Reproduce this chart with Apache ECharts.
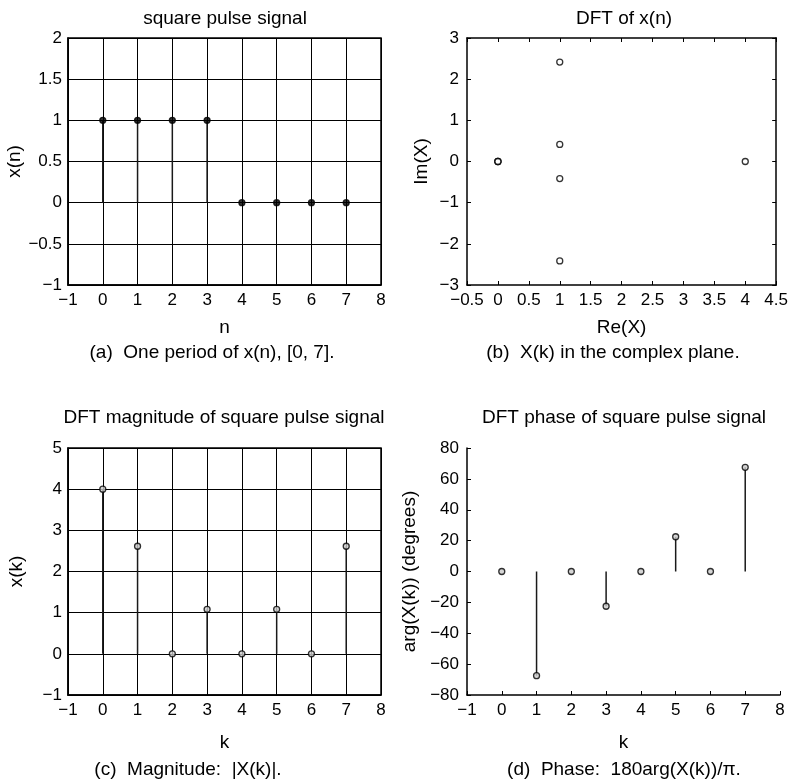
<!DOCTYPE html>
<html>
<head>
<meta charset="utf-8">
<script src="https://cdn.jsdelivr.net/npm/echarts@6/dist/echarts.min.js"></script>
<style>
  html, body { margin: 0; padding: 0; background: #fff; }
  #chart { width: 791px; height: 782px; }
</style>
</head>
<body>
<div id="chart"></div>
<script>
// One period of the square pulse and its 8-point DFT
const nIdx = [0, 1, 2, 3, 4, 5, 6, 7];
const xn = [1, 1, 1, 1, 0, 0, 0, 0];
const reX = [4, 1, 0, 1, 0, 1, 0, 1];
const imX = [0, -2.414, 0, -0.414, 0, 0.414, 0, 2.414];
const magX = [4, 2.613, 0, 1.082, 0, 1.082, 0, 2.613];
const phaseX = [0, -67.5, 0, -22.5, 0, 22.5, 0, 67.5];

const titles = [
  'square pulse signal',
  'DFT of x(n)',
  'DFT magnitude of square pulse signal',
  'DFT phase of square pulse signal'
];
const captions = [
  '(a)  One period of x(n), [0, 7].',
  '(b)  X(k) in the complex plane.',
  '(c)  Magnitude:  |X(k)|.',
  '(d)  Phase:  180arg(X(k))/\u03c0.'
];

const FONT = '"Liberation Sans", Arial, Helvetica, sans-serif';
const INK = '#000';

const pairs = (xs, ys) => xs.map((x, i) => [x, ys[i]]);
const minusFmt = v => String(v).replace('-', '\u2212');

const tickLabel = (margin) => ({
  color: INK, fontFamily: FONT, fontSize: 17, margin: margin,
  formatter: minusFmt, showMinLabel: true, showMaxLabel: true
});
const nameStyle = { color: INK, fontFamily: FONT, fontSize: 19 };

function valueAxis(o) {
  return Object.assign({
    type: 'value',
    nameLocation: 'middle',
    nameTextStyle: nameStyle,
    axisLine: { show: true, onZero: false, lineStyle: { color: INK, width: 1.5 } },
    axisTick: { show: true, inside: true, length: 4, lineStyle: { color: INK, width: 1 } },
    splitLine: { show: false },
    axisLabel: tickLabel(7)
  }, o);
}
const gridLines = { show: true, lineStyle: { color: INK, width: 1 } };
const hiddenLabels = { show: false };

function stemItem(params, api) {
  const p0 = api.coord([api.value(0), 0]);
  const p1 = api.coord([api.value(0), api.value(1)]);
  return {
    type: 'line',
    shape: { x1: p0[0], y1: p0[1], x2: p1[0], y2: p1[1] },
    style: { stroke: '#1a1a1a', lineWidth: 1.5 }
  };
}
function stems(data, axis) {
  return { type: 'custom', xAxisIndex: axis, yAxisIndex: axis, data: data,
           renderItem: stemItem, z: 3, silent: true };
}
function marks(data, axis, fill, size) {
  return { type: 'scatter', xAxisIndex: axis, yAxisIndex: axis, data: data,
           symbol: 'circle', symbolSize: size, z: 4, silent: true,
           itemStyle: { color: fill, borderColor: INK, borderWidth: 1.3 } };
}

const grids = [
  { left: 68, top: 38, width: 313, height: 247, show: true, borderColor: INK, borderWidth: 1.5 },
  { left: 467, top: 38, width: 312, height: 247 },
  { left: 68, top: 448, width: 313, height: 247, show: true, borderColor: INK, borderWidth: 1.5 },
  { left: 467, top: 448, width: 313, height: 247 }
];

const xAxes = [
  valueAxis({ gridIndex: 0, min: -1, max: 8, interval: 1, name: 'n', nameGap: 33,
              splitLine: gridLines }),
  valueAxis({ gridIndex: 1, min: -0.5, max: 4.5, interval: 0.5, name: 'Re(X)', nameGap: 33 }),
  valueAxis({ gridIndex: 1, position: 'top', min: -0.5, max: 4.5, interval: 0.5,
              axisLabel: hiddenLabels }),
  valueAxis({ gridIndex: 2, min: -1, max: 8, interval: 1, name: 'k', nameGap: 38,
              splitLine: gridLines }),
  valueAxis({ gridIndex: 3, min: -1, max: 8, interval: 1, name: 'k', nameGap: 38 })
];
const yAxes = [
  valueAxis({ gridIndex: 0, min: -1, max: 2, interval: 0.5, name: 'x(n)', nameGap: 43,
              splitLine: gridLines, axisLabel: tickLabel(6) }),
  valueAxis({ gridIndex: 1, min: -3, max: 3, interval: 1, name: 'Im(X)', nameGap: 36,
              axisLabel: tickLabel(8) }),
  valueAxis({ gridIndex: 1, position: 'right', min: -3, max: 3, interval: 1,
              axisLabel: hiddenLabels }),
  valueAxis({ gridIndex: 2, min: -1, max: 5, interval: 1, name: 'x(k)', nameGap: 42,
              splitLine: gridLines, axisLabel: tickLabel(6) }),
  valueAxis({ gridIndex: 3, min: -80, max: 80, interval: 20, name: 'arg(X(k)) (degrees)',
              nameGap: 48, axisLabel: tickLabel(8) })
];

const series = [
  stems(pairs(nIdx, xn), 0),
  marks(pairs(nIdx, xn), 0, INK, 6),
  marks(pairs(reX, imX), 1, '#fff', 6),
  stems(pairs(nIdx, magX), 3),
  marks(pairs(nIdx, magX), 3, '#ccc', 6),
  stems(pairs(nIdx, phaseX), 4),
  marks(pairs(nIdx, phaseX), 4, '#ccc', 6)
];

// Panel titles and captions, centred over each panel
const titlePos = [[225, 19], [624, 19], [224, 418], [624, 418]];
const captionPos = [[212, 353], [613, 353], [188, 770], [624, 770]];
const graphic = [];
titles.forEach((t, i) => graphic.push({
  type: 'text', x: titlePos[i][0], y: titlePos[i][1], silent: true,
  style: { text: t, fill: INK, font: '19px ' + FONT, align: 'center', verticalAlign: 'middle' }
}));
captions.forEach((t, i) => graphic.push({
  type: 'text', x: captionPos[i][0], y: captionPos[i][1], silent: true,
  style: { text: t, fill: INK, font: '19px ' + FONT, align: 'center', verticalAlign: 'middle' }
}));

const chart = echarts.init(document.getElementById('chart'), null, { renderer: 'canvas' });
chart.setOption({
  backgroundColor: '#fff',
  animation: false,
  grid: grids,
  xAxis: xAxes,
  yAxis: yAxes,
  series: series,
  graphic: graphic
});
</script>
</body>
</html>
